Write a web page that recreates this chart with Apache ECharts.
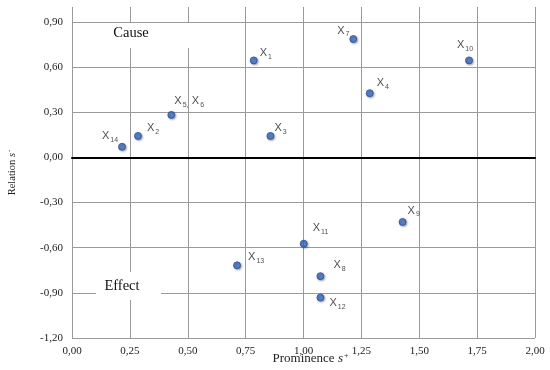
<!DOCTYPE html>
<html>
<head>
<meta charset="utf-8">
<script src="https://cdn.jsdelivr.net/npm/echarts@6/dist/echarts.min.js"></script>
<style>html,body{margin:0;padding:0;background:#fff}#c{width:550px;height:370px}</style>
</head>
<body>
<div id="c"></div>
<script>
// ---- data ----
const names = ['1','14','2','5,6','3','7','10','4','13','11','9','8','12'];
const prominence = [0.785, 0.216, 0.285, 0.429, 0.857, 1.215, 1.715, 1.286, 0.713, 1.001, 1.428, 1.073, 1.073];
const relation   = [0.645, 0.071, 0.143, 0.283, 0.143, 0.787, 0.645, 0.427, -0.717, -0.573, -0.429, -0.789, -0.931];
const xTicks = [0, 0.25, 0.5, 0.75, 1.0, 1.25, 1.5, 1.75, 2.0];
const yTicks = [-1.2, -0.9, -0.6, -0.3, 0, 0.3, 0.6, 0.9];

// ---- label placement (style) ----
const labelOffset = {
  '1':[6,-7], '14':[-20,-10], '2':[9,-7], '5,6':[3,-13], '3':[4,-7], '7':[-16,-8],
  '10':[-12,-15], '4':[7,-10], '13':[11,-8], '11':[9,-15], '9':[5,-11], '8':[13,-11], '12':[9,6]
};

function fmt(v){ return v.toFixed(2).replace('.', ','); }
function labelText(n){
  if (n === '5,6') return '{m|X}{s|5,} {m|X}{s|6}';
  return '{m|X}{s|' + n + '}';
}

const data = names.map((n,i)=>({
  value:[prominence[i], relation[i]],
  label:{ offset: labelOffset[n], formatter: labelText(n) }
}));

const chart = echarts.init(document.getElementById('c'), null, {renderer:'canvas'});
const serif = '"Liberation Serif","Times New Roman",serif';
chart.setOption({
  animation:false,
  backgroundColor:'#fff',
  grid:{left:72, right:15, top:7, bottom:32, outerBoundsMode:'none', containLabel:false},
  xAxis:{
    type:'value', min:xTicks[0], max:xTicks[xTicks.length-1], interval:0.25,
    axisLine:{onZero:true, lineStyle:{color:'#000', width:2}},
    axisTick:{show:false},
    axisLabel:{formatter:fmt, color:'#222', fontFamily:serif, fontSize:11, margin:8},
    splitLine:{show:true, lineStyle:{color:'#9a9a9a', width:1}},
    name:'Prominence {i|s}{sup|+}', nameLocation:'middle', nameGap:14, nameMoveOverlap:false,
    nameTextStyle:{fontFamily:serif, fontSize:13, color:'#222', padding:[0,0,0,14],
      rich:{i:{fontFamily:serif, fontStyle:'italic', fontSize:13, color:'#222'},
            sup:{fontFamily:serif, fontSize:8, color:'#222', verticalAlign:'top', padding:[0,0,6,1]}}}
  },
  yAxis:{
    type:'value', min:yTicks[0], max:1.0, interval:0.3,
    axisLine:{show:false}, axisTick:{show:false},
    axisLabel:{formatter:fmt, color:'#222', fontFamily:serif, fontSize:11, margin:9, showMaxLabel:false},
    splitLine:{show:true, showMaxLine:false, lineStyle:{color:'#9a9a9a', width:1}},
    name:'Relation {i|s}{sup|-}', nameLocation:'middle', nameGap:54, nameRotate:90,
    nameTextStyle:{fontFamily:serif, fontSize:10.5, color:'#222',
      rich:{i:{fontFamily:serif, fontStyle:'italic', fontSize:10.5, color:'#222'},
            sup:{fontFamily:serif, fontSize:7, color:'#222', verticalAlign:'top', padding:[0,0,5,1]}}}
  },
  graphic:[
    {type:'rect', shape:{x:100, y:23, width:95, height:25}, style:{fill:'#fff'}, z:10},
    {type:'text', x:131, y:33, style:{text:'Cause', font:'14.5px "Liberation Serif", serif', fill:'#111', align:'center', verticalAlign:'middle'}, z:11},
    {type:'rect', shape:{x:96, y:272, width:65, height:28}, style:{fill:'#fff'}, z:10},
    {type:'text', x:122, y:286, style:{text:'Effect', font:'14.5px "Liberation Serif", serif', fill:'#111', align:'center', verticalAlign:'middle'}, z:11}
  ],
  series:[{
    type:'scatter', data:data, symbolSize:7, z:20,
    itemStyle:{color:'#3f6fc6', borderColor:'#284f96', borderWidth:1,
      shadowBlur:2, shadowColor:'rgba(0,0,0,0.35)', shadowOffsetX:1, shadowOffsetY:1},
    label:{show:true, position:'inside', align:'left', verticalAlign:'middle',
      rich:{
        m:{fontFamily:'"Liberation Sans",Arial,sans-serif', fontSize:11, color:'#222', verticalAlign:'top', lineHeight:12},
        s:{fontFamily:'"Liberation Sans",Arial,sans-serif', fontSize:7, color:'#222', verticalAlign:'top', lineHeight:8, padding:[6,0,0,1]}
      }}
  }]
});
</script>
</body>
</html>
